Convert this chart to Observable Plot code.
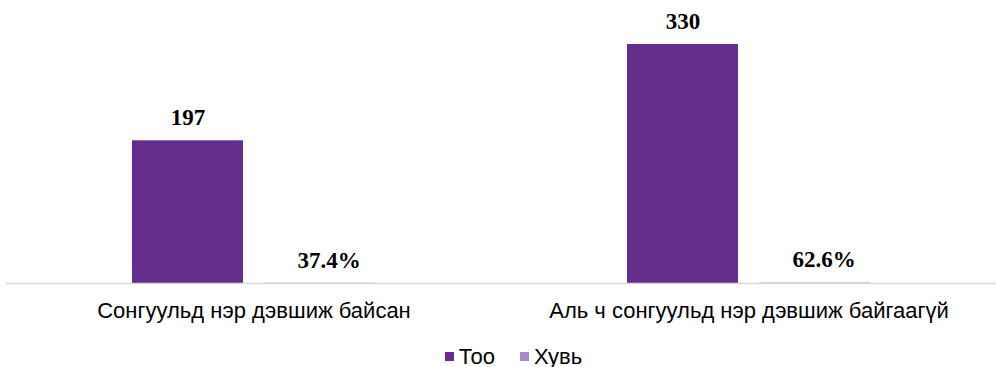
<!DOCTYPE html>
<html>
<head>
<meta charset="utf-8">
<script src="https://cdn.jsdelivr.net/npm/d3@7"></script>
<script src="https://cdn.jsdelivr.net/npm/@observablehq/plot@0.6"></script>
<style>
  html, body { margin: 0; padding: 0; background: #fff; }
  #chart { width: 996px; }
  .leg-swatches-wrap, .leg-swatches { justify-content: center; }
  .leg-swatches { font-family: "Liberation Sans", Arial, sans-serif !important; font-size: 22px !important; color: #000; margin: 0 !important; padding-left: 56px; }
  .leg-swatch { font-size: 22px !important; margin-right: 25px !important; }
  .leg-swatch > svg { margin-right: 5px !important; }
</style>
</head>
<body>
<div id="chart"></div>
<script>
const categories = ["Сонгуульд нэр дэвшиж байсан", "Аль ч сонгуульд нэр дэвшиж байгаагүй"];
const series = ["Тоо", "Хувь"];
const counts = [197, 330];
const shares = [0.374, 0.626];
const colors = ["#652D8C", "#A58BC4"];

const data = [];
categories.forEach((c, i) => {
  data.push({category: c, series: series[0], value: counts[i], label: String(counts[i])});
  data.push({category: c, series: series[1], value: shares[i], label: (shares[i] * 100).toFixed(1) + "%"});
});

const plot = Plot.plot({
  width: 996,
  height: 340,
  marginLeft: 5,
  marginRight: 0,
  marginTop: 29.5,
  marginBottom: 57,
  style: {fontFamily: "'Liberation Sans', Arial, sans-serif", fontSize: "22px", color: "#000", background: "#fff"},
  fx: {domain: categories, paddingInner: 0, paddingOuter: 0, label: null, axis: "bottom", tickSize: 0, tickPadding: 19},
  x: {domain: series, paddingInner: 0.16, paddingOuter: 0.955, axis: null},
  y: {domain: [0, 350], axis: null},
  color: {domain: series, range: colors},
  marks: [
    Plot.barY(data, {fx: "category", x: "series", y: "value", fill: "series"}),
    Plot.ruleY([0], {stroke: "#d9d9d9", strokeWidth: 1.5}),
    Plot.text(data.filter(d => d.series === series[0]), {
      fx: "category", x: "series", y: "value", text: "label", dy: -23,
      fontFamily: "'Liberation Serif', 'Times New Roman', serif", fontWeight: "bold", fontSize: 23, fill: "#000"
    }),
    Plot.text(data.filter(d => d.series === series[1]), {
      fx: "category", x: "series", y: "value", text: "label", dy: -23, dx: 9,
      fontFamily: "'Liberation Serif', 'Times New Roman', serif", fontWeight: "bold", fontSize: 23, fill: "#000"
    })
  ]
});

const legend = Plot.legend({
  color: {domain: series, range: colors},
  legend: "swatches",
  swatchSize: 9,
  className: "leg"
});

const el = document.getElementById("chart");
el.appendChild(plot);
el.appendChild(legend);
</script>
</body>
</html>
